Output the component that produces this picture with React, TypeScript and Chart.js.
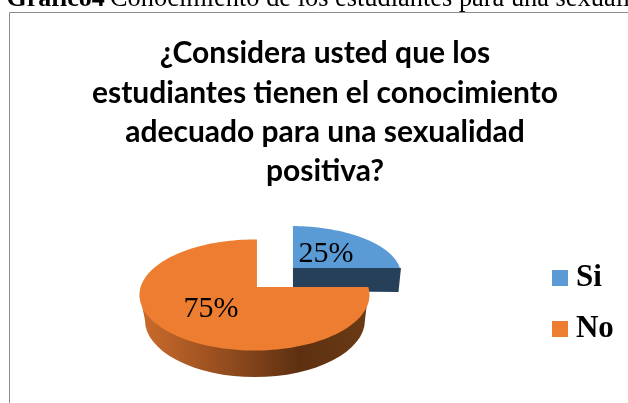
import React, { useEffect, useRef } from "react";
import { Chart, registerables } from "chart.js";

Chart.register(...registerables);

const categories = ["Si", "No"];
const shares = [25, 75];
const sliceColors = ["#5B9BD5", "#ED7D31"];
const titleLines = [
  "¿Considera usted que los",
  "estudiantes tienen el conocimiento",
  "adecuado para una sexualidad",
  "positiva?",
];
const captionBold = "Gráfico4";
const captionText = "Conocimiento de los estudiantes para una sexualidad positiva";

function swatch(color: string) {
  const c = document.createElement("canvas");
  c.width = 16;
  c.height = 16;
  const g = c.getContext("2d")!;
  g.fillStyle = color;
  g.fillRect(0, 0, 16, 16);
  return c;
}

const framePlugin = {
  id: "frame",
  beforeDraw(chart: any) {
    const { ctx, width, height } = chart;
    ctx.save();
    ctx.fillStyle = "#fff";
    ctx.fillRect(0, 0, width, height);
    ctx.strokeStyle = "#8C8C8C";
    ctx.lineWidth = 1;
    ctx.beginPath();
    ctx.moveTo(width, 12.5);
    ctx.lineTo(9.5, 12.5);
    ctx.lineTo(9.5, height);
    ctx.stroke();
    ctx.fillStyle = "#000";
    ctx.textBaseline = "alphabetic";
    ctx.font = "bold 26px 'Liberation Serif'";
    ctx.fillText(captionBold, 6.5, 6);
    ctx.font = "26.4px 'Liberation Serif'";
    ctx.fillText(captionText, 110, 6);
    ctx.restore();
  },
};

const piePlugin = {
  id: "pie3d",
  beforeDatasetDraw(chart: any, args: any) {
    const { ctx } = chart;
    const els = args.meta.data;
    const first = els[0];
    const X = first.x, Y = first.y, r = first.outerRadius;
    const k = r / 99.28;
    const tx = (d: number) => X + (d - 25.85) * k;
    const ty = (d: number) => Y + (d - 16.7) * k;
    // shape of each slice relative to the library's pie centre, scaled by its radius
    const shape = [
      { ax: 36, ay: -19, cx: 33.5, cy: -12, rx: 110.5, ry: 49 },
      { ax: 0, ay: 0, cx: -2.5, cy: 8, rx: 115, ry: 55.5 },
    ];
    const trace = (s: any, a0: number, a1: number) => {
      const px = (s.ax - s.cx) / s.rx, py = (s.ay - s.cy) / s.ry;
      ctx.moveTo(tx(s.ax), ty(s.ay));
      const n = 120;
      for (let i = 0; i <= n; i++) {
        const a = a0 + ((a1 - a0) * i) / n;
        const dx = Math.cos(a), dy = Math.sin(a);
        const b = px * dx + py * dy;
        const t = -b + Math.sqrt(b * b - (px * px + py * py - 1));
        ctx.lineTo(tx(s.cx + (px + t * dx) * s.rx), ty(s.cy + (py + t * dy) * s.ry));
      }
      ctx.closePath();
    };
    ctx.save();
    const a = els[0], b = els[1];
    ctx.fillStyle = "#264059";
    ctx.beginPath();
    ctx.moveTo(tx(36), ty(-19));
    ctx.lineTo(tx(144), ty(-19));
    ctx.lineTo(tx(141.5), ty(5));
    ctx.lineTo(tx(36), ty(4));
    ctx.closePath();
    ctx.fill();
    ctx.fillStyle = a.options.backgroundColor;
    ctx.beginPath();
    trace(shape[0], a.startAngle, a.endAngle);
    ctx.fill();
    const g = ctx.createLinearGradient(tx(-112), 0, tx(108), 0);
    g.addColorStop(0, "#C86A2B");
    g.addColorStop(0.35, "#964E1F");
    g.addColorStop(0.7, "#5E3011");
    g.addColorStop(1, "#6A3A15");
    ctx.fillStyle = g;
    ctx.beginPath();
    ctx.moveTo(tx(112), ty(0));
    ctx.lineTo(tx(108), ty(33));
    ctx.ellipse(tx(-2), ty(33), 110 * k, 57 * k, 0, 0, Math.PI);
    ctx.lineTo(tx(-117), ty(8));
    ctx.closePath();
    ctx.fill();
    ctx.fillStyle = b.options.backgroundColor;
    ctx.beginPath();
    trace(shape[1], b.startAngle, b.endAngle);
    ctx.fill();
    ctx.fillStyle = "#000";
    ctx.font = "30px 'Liberation Serif'";
    ctx.textAlign = "center";
    ctx.textBaseline = "middle";
    const total = shares.reduce((p, q) => p + q, 0);
    ctx.fillText(`${Math.round((shares[0] / total) * 100)}%`, tx(69), ty(-33));
    ctx.fillText(`${Math.round((shares[1] / total) * 100)}%`, tx(-46), ty(22));
    ctx.restore();
    return false;
  },
};

export default function App() {
  const ref = useRef<HTMLCanvasElement>(null);
  useEffect(() => {
    const chart = new Chart(ref.current!, {
      type: "pie",
      data: {
        labels: categories,
        datasets: [{ data: shares, backgroundColor: sliceColors, borderWidth: 0 }],
      },
      plugins: [framePlugin, piePlugin],
      options: {
        animation: false,
        responsive: false,
        devicePixelRatio: 1,
        layout: { padding: { left: 26.2, right: 4.2, top: 0, bottom: 0 } },
        plugins: {
          title: {
            display: true,
            text: titleLines,
            color: "#000",
            font: { family: "Lato", weight: "bold", size: 30, lineHeight: 1.31 },
            padding: { top: 34, bottom: 13.2 },
          },
          legend: {
            position: "right",
            fullSize: false,
            labels: {
              color: "#000",
              font: { family: "'Liberation Serif'", weight: "bold", size: 31 },
              usePointStyle: true,
              boxWidth: 1,
              padding: 20,
              generateLabels: () =>
                categories.map((text, i) => ({
                  text,
                  fillStyle: sliceColors[i],
                  strokeStyle: sliceColors[i],
                  lineWidth: 0,
                  pointStyle: swatch(sliceColors[i]),
                  fontColor: "#000",
                  hidden: false,
                  index: i,
                })),
            },
          },
          tooltip: { enabled: false },
        },
      },
    } as any);
    return () => chart.destroy();
  }, []);
  return (
    <canvas
      ref={ref}
      width={628}
      height={403}
      style={{ position: "fixed", left: 0, top: 0, width: 628, height: 403 }}
    />
  );
}
